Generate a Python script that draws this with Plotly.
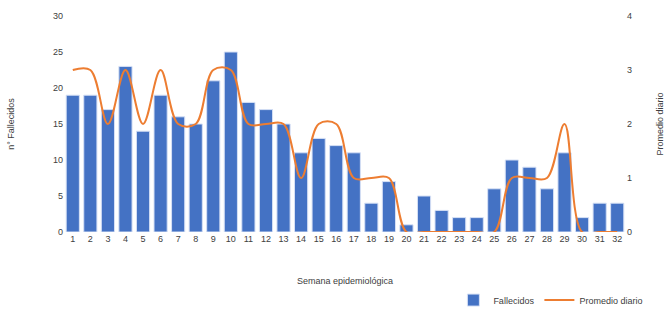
import plotly.graph_objects as go

semanas = [str(i) for i in range(1, 33)]
fallecidos = [19, 19, 17, 23, 14, 19, 16, 15, 21, 25, 18, 17, 15, 11, 13, 12,
              11, 4, 7, 1, 5, 3, 2, 2, 6, 10, 9, 6, 11, 2, 4, 4]
promedio = [3, 3, 2, 3, 2, 3, 2, 2, 3, 3, 2, 2, 2, 1, 2, 2,
            1, 1, 1, 0, 0, 0, 0, 0, 0, 1, 1, 1, 2, 0, 0, 0]

font = dict(family="Liberation Sans, Arial, sans-serif", size=9, color="#404040")

fig = go.Figure()
fig.add_trace(go.Bar(
    x=semanas, y=fallecidos, name="Fallecidos",
    marker=dict(color="#4472C4", line=dict(color="#D6E0F5", width=1)),
    yaxis="y",
))
fig.add_trace(go.Scatter(
    x=semanas, y=promedio, name="Promedio diario", mode="lines",
    line=dict(color="#ED7D31", width=2, shape="spline", smoothing=1.0),
    yaxis="y2",
))

fig.update_layout(
    width=665, height=310,
    margin=dict(l=64, r=39, t=16, b=78, autoexpand=False),
    paper_bgcolor="white", plot_bgcolor="white",
    font=font,
    bargap=0.25,
    showlegend=True,
    legend=dict(orientation="h", xref="container", yref="container",
                x=0.975, xanchor="right", y=0.032, yanchor="middle",
                font=dict(size=9, color="#404040"), itemwidth=30, tracegroupgap=0),
    xaxis=dict(
        showgrid=False, showline=False, zeroline=False, ticks="", automargin=False,
        tickfont=dict(size=9, color="#404040"),
        title=dict(text="Semana epidemiológica", font=dict(size=9, color="#404040"), standoff=37),
    ),
    yaxis=dict(
        range=[0, 30], dtick=5, showgrid=False, zeroline=False, showline=False, automargin=False,
        tickfont=dict(size=9, color="#404040"),
        title=dict(text="n° Fallecidos", font=dict(size=9, color="#404040"), standoff=36),
    ),
    yaxis2=dict(
        range=[0, 4], dtick=1, overlaying="y", side="right", showgrid=False,
        zeroline=False, showline=False,
        tickfont=dict(size=9, color="#404040"),
        title=dict(text="Promedio diario", font=dict(size=9, color="#404040"), standoff=29),
        automargin=False,
    ),
)

fig.write_html("out.html", post_script="document.body.style.margin='0';",
               config={"displayModeBar": False})
